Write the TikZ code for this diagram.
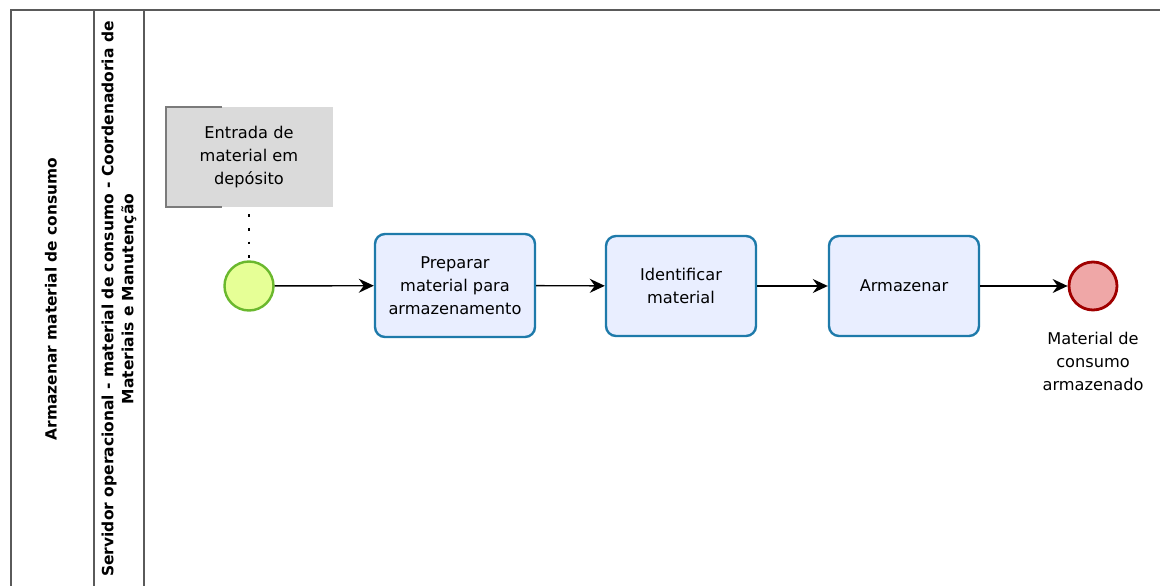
\documentclass[tikz,border=0pt]{standalone}
\usepackage{fontspec}
\setmainfont{DejaVu Sans}
\usepackage{xcolor}
\usetikzlibrary{arrows.meta}
\definecolor{taskBlue}{RGB}{30,122,170}
\definecolor{taskFill}{RGB}{233,238,255}
\definecolor{startGreen}{RGB}{106,184,45}
\definecolor{startFill}{RGB}{230,255,150}
\definecolor{endRed}{RGB}{160,0,0}
\definecolor{endFill}{RGB}{239,167,167}
\definecolor{noteGray}{RGB}{218,218,218}
\definecolor{laneGray}{RGB}{90,90,90}

\begin{document}
\begin{tikzpicture}[x=1pt,y=-1pt,
  tarefa/.style={rounded corners=10pt,draw=taskBlue,fill=taskFill,line width=2.4pt,align=center,font=\fontsize{16.2}{23}\selectfont},
  fluxo/.style={-{Stealth[length=15pt,width=14pt,inset=5pt]},line width=1.4pt},
  rotulo/.style={align=center,font=\fontsize{16.2}{23}\selectfont}]
\useasboundingbox (0,0) rectangle (1160,586);
\draw[laneGray,line width=1.4pt] (1160,10) -- (11,10) -- (11,586);
\draw[laneGray,line width=1.4pt] (94,10) -- (94,586);
\draw[laneGray,line width=1.4pt] (144,10) -- (144,586);
\node[rotate=90,font=\bfseries\fontsize{15.4}{20}\selectfont] (pool) at (51,299) {Armazenar material de consumo};
\node[rotate=90,align=center,font=\bfseries\fontsize{15.5}{20}\selectfont] (raia) at (119,299) {Servidor operacional - material de consumo - Coordenadoria de\\Materiais e Manutenção};

% anotacao
\fill[noteGray] (166,107) rectangle (333,207);
\draw[laneGray!80,line width=1.2pt] (222,107) -- (166,107) -- (166,207) -- (222,207);
\node[rotulo] (nota) at (249,157) {Entrada de\\material em\\depósito};
\coordinate (notab) at (249,214);

% eventos e tarefas
\node[circle,draw=startGreen,fill=startFill,line width=2.4pt,minimum size=49pt,inner sep=0pt] (inicio) at (249,286) {};
\node[tarefa,minimum width=160pt,minimum height=103pt] (t1) at (455,285.5) {Preparar\\material para\\armazenamento};
\node[tarefa,minimum width=150pt,minimum height=100pt] (t2) at (681,286) {Identificar\\material};
\node[tarefa,minimum width=150pt,minimum height=100pt] (t3) at (904,286) {Armazenar};
\node[circle,draw=endRed,fill=endFill,line width=2.8pt,minimum size=48pt,inner sep=0pt] (fim) at (1093,286) {};
\node[rotulo,anchor=north] (fimtxt) at (1093,329) {Material de\\consumo\\armazenado};

\draw[line width=2.8pt,dash pattern=on 2.8pt off 11pt] (notab) -- (inicio);
\draw[fluxo] (inicio) -- (t1);
\draw[fluxo] (t1) -- (t2);
\draw[fluxo] (t2) -- (t3);
\draw[fluxo] (t3) -- (fim);
\end{tikzpicture}
\end{document}
